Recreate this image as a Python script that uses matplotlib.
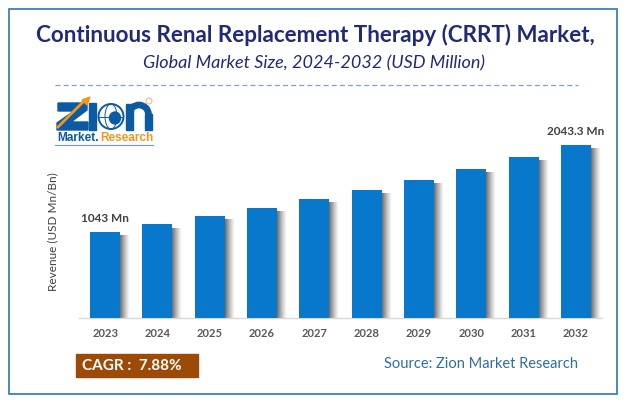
import matplotlib
matplotlib.use("Agg")
import matplotlib.pyplot as plt
import numpy as np
from matplotlib.patches import Rectangle, Circle, Ellipse, Polygon, Arc

W, H = 626, 403

years = ["2023", "2024", "2025", "2026", "2027", "2028", "2029", "2030", "2031", "2032"]
revenue = [1043, 1129, 1227, 1319, 1422, 1526, 1641, 1767, 1905, 2043.3]
bar_labels = {0: "1043 Mn", 9: "2043.3 Mn"}

plt.rcParams['font.family'] = ['Lato', 'DejaVu Sans']

fig = plt.figure(figsize=(W / 100, H / 100), dpi=100)

# overlay in pixel coordinates for the frame, header and logo
bg = fig.add_axes([0, 0, 1, 1])
bg.set_xlim(0, W)
bg.set_ylim(H, 0)
bg.axis("off")

bg.add_patch(Rectangle((8.5, 8.5), 608.5, 385, fill=False, ec="#2e75b6", lw=1.2))
bg.text(315.5, 35, "Continuous Renal Replacement Therapy (CRRT) Market,", ha="center", va="center",
        fontsize=16.1, fontweight="bold", color="#1f2a78")
bg.text(314, 63, "Global Market Size, 2024-2032 (USD Million)", ha="center", va="center",
        fontsize=13, fontstyle="italic", color="#1f2a78")
bg.plot([55, 578], [84.5, 84.5], color="#7f9fd6", lw=0.9, ls=(0, (4, 2.5)))

# logo
blue = "#0b5aa2"
orange = "#f7941d"
bg.add_patch(Polygon([(58, 103), (87, 103), (87, 110), (71, 122), (88, 122), (88, 130), (57, 130),
                      (57, 123), (74, 111), (58, 111)], color=blue))
bg.plot([58, 85], [127, 100], color=orange, lw=2)
bg.add_patch(Polygon([(90, 97), (82, 100), (87, 105)], color=orange))
bg.add_patch(Rectangle((89, 103), 7, 27, color=blue))
bg.add_patch(Circle((111, 116.5), 12.5, fc="white", ec=blue, lw=1.4))
bg.add_patch(Ellipse((111, 116.5), 12, 25, fc="none", ec=blue, lw=0.7))
bg.plot([99, 123], [116.5, 116.5], color=blue, lw=0.7)
bg.add_patch(Ellipse((115, 118), 11, 12, color=blue))
bg.add_patch(Rectangle((126, 104), 7, 26, color=blue))
bg.add_patch(Rectangle((145, 114), 7, 16, color=blue))
bg.add_patch(Arc((139, 114.5), 19, 19, theta1=180, theta2=360, color=blue, lw=4.8))
bg.add_patch(Circle((149, 101), 3, fc="none", ec="#f4b183", lw=0.7))
bg.text(57, 138, "Market.", fontsize=8.6, fontweight="bold", color=blue, family="Liberation Sans", va="center", ha="left")
bg.text(100, 138, "Research", fontsize=8.5, fontweight="bold", color=orange, family="Liberation Sans", va="center", ha="left")
bg.plot([55, 153], [144.5, 144.5], color="#6c9bd2", lw=0.8)

# bar chart, 523 px wide with the baseline at y=318
ax = fig.add_axes([79 / W, (H - 318) / H, 523 / W, 190 / H])
x = np.arange(len(years))
bar_w = 30 / 52.3
ymin, ymax = 54, 54 + 190 / 0.087
ax.set_xlim(-0.5, 9.5)
ax.set_ylim(ymin, ymax)

# soft shadow on the right of each bar
fade = np.zeros((1, 32, 4))
fade[..., :3] = 0.25
fade[..., 3] = np.linspace(0.8, 0, 32) ** 1.2
for xi, r in zip(x, revenue):
    ax.imshow(fade, extent=(xi + bar_w / 2, xi + bar_w / 2 + 0.19, ymin, r - 45),
              aspect="auto", interpolation="bilinear", zorder=2)
ax.set_xlim(-0.5, 9.5)
ax.set_ylim(ymin, ymax)
ax.bar(x, revenue, width=bar_w, color="#0878cc", zorder=3)

for i, label in bar_labels.items():
    ax.annotate(label, (x[i], revenue[i]), xytext=(0, 8), textcoords="offset pixels",
                ha="center", va="bottom", fontsize=8.5, fontweight="bold", color="#404040")

for s in ("top", "left", "right"):
    ax.spines[s].set_visible(False)
ax.spines["bottom"].set_color("#d9d9d9")
ax.spines["bottom"].set_linewidth(1)
ax.set_yticks([])
ax.set_xticks(x)
ax.set_xticklabels(years, fontsize=8, fontweight="bold", color="#595959")
ax.tick_params(axis="x", length=0, pad=7)
ax.patch.set_alpha(0)

bg.text(53, 232, "Revenue (USD Mn/Bn)", rotation=90, ha="center", va="center", fontsize=8.5, color="#404040")

# footer
bg.add_patch(Rectangle((76, 354), 122, 23, color="#9c4a07"))
bg.text(82, 366.5, "CAGR :  7.88%", ha="left", va="center", fontsize=11, fontweight="bold", color="white")
bg.text(578, 364, "Source: Zion Market Research", ha="right", va="center", fontsize=10.5, color="#2e6da4")

fig.savefig("out.png", dpi=100)
